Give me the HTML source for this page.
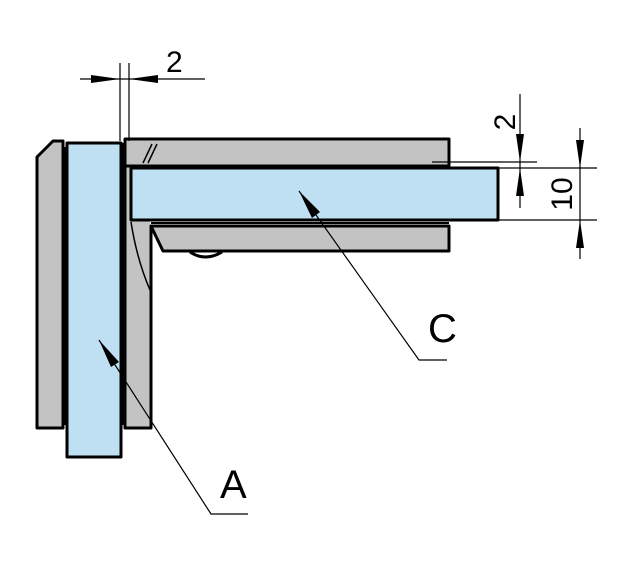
<!DOCTYPE html>
<html><head><meta charset="utf-8"><style>html,body{margin:0;padding:0;background:#fff}svg{display:block}</style></head><body>
<svg width="631" height="570" viewBox="0 0 631 570" xmlns="http://www.w3.org/2000/svg" font-family="Liberation Sans, sans-serif">
<g stroke="#000" stroke-width="3" stroke-linejoin="round">
<!-- left outer plate -->
<path d="M37,157 L53,141 L63,141 L63,428 L37,428 Z" fill="#c3c3c3"/>
<!-- right vertical plate -->
<path d="M125,141 L125,428 L151,428 L151,226 L449,226 L449,251 L163,251 L151,226" fill="#c3c3c3"/>
<!-- top bracket -->
<rect x="125" y="139" width="324" height="27" fill="#c3c3c3"/>
<!-- glass A -->
<rect x="67" y="143" width="54" height="314" fill="#bfdff2"/>
<!-- glass C -->
<rect x="131" y="168" width="367" height="52" fill="#bfdff2"/>
</g>
<g stroke="#000" fill="none">
<line x1="65" y1="147" x2="65" y2="425" stroke-width="2"/>
<line x1="123" y1="143" x2="123" y2="425" stroke-width="2"/>
<path d="M131,222 Q137,260 150,290" stroke-width="1.5"/>
<path d="M143,163 L152,144 M148,163 L157,144" stroke-width="1.5"/>
<path d="M190,252 Q205,262 222,252" stroke-width="3"/>
<line x1="151" y1="223" x2="449" y2="223" stroke-width="2"/>
<!-- dim top 2 -->
<line x1="120" y1="63" x2="120" y2="141" stroke-width="1.2"/>
<line x1="129" y1="63" x2="129" y2="141" stroke-width="1.2"/>
<line x1="80" y1="79" x2="205" y2="79" stroke-width="1.2"/>
<!-- right dims -->
<line x1="432" y1="162" x2="537" y2="162" stroke-width="1.2"/>
<line x1="498" y1="168" x2="597" y2="168" stroke-width="1.2"/>
<line x1="498" y1="220" x2="597" y2="220" stroke-width="1.2"/>
<line x1="520" y1="94" x2="520" y2="208" stroke-width="1.2"/>
<line x1="580" y1="128" x2="580" y2="259" stroke-width="1.2"/>
<!-- leaders -->
<polyline points="299,191 419,360 447,360" stroke-width="1.2"/>
<polyline points="99,340 211,514 248,514" stroke-width="1.2"/>
</g>
<g fill="#000">
<polygon points="120,79 91,75 91,83"/>
<polygon points="129,79 158,75 158,83"/>
<polygon points="520,162 516,134 524,134"/>
<polygon points="520,168 516,196 524,196"/>
<polygon points="580,168 576,140 584,140"/>
<polygon points="580,220 576,248 584,248"/>
<polygon points="299,191 320,212 312,218"/>
<polygon points="99,340 119,362 111,367"/>
</g>
<g font-size="30" fill="#000">
<text x="166" y="72">2</text>
<text x="220" y="498" font-size="40">A</text>
<text x="428" y="342" font-size="40">C</text>
<text transform="translate(515,122) rotate(-90)" text-anchor="middle">2</text>
<text transform="translate(572,194) rotate(-90)" text-anchor="middle">10</text>
</g>
</svg>
</body></html>
